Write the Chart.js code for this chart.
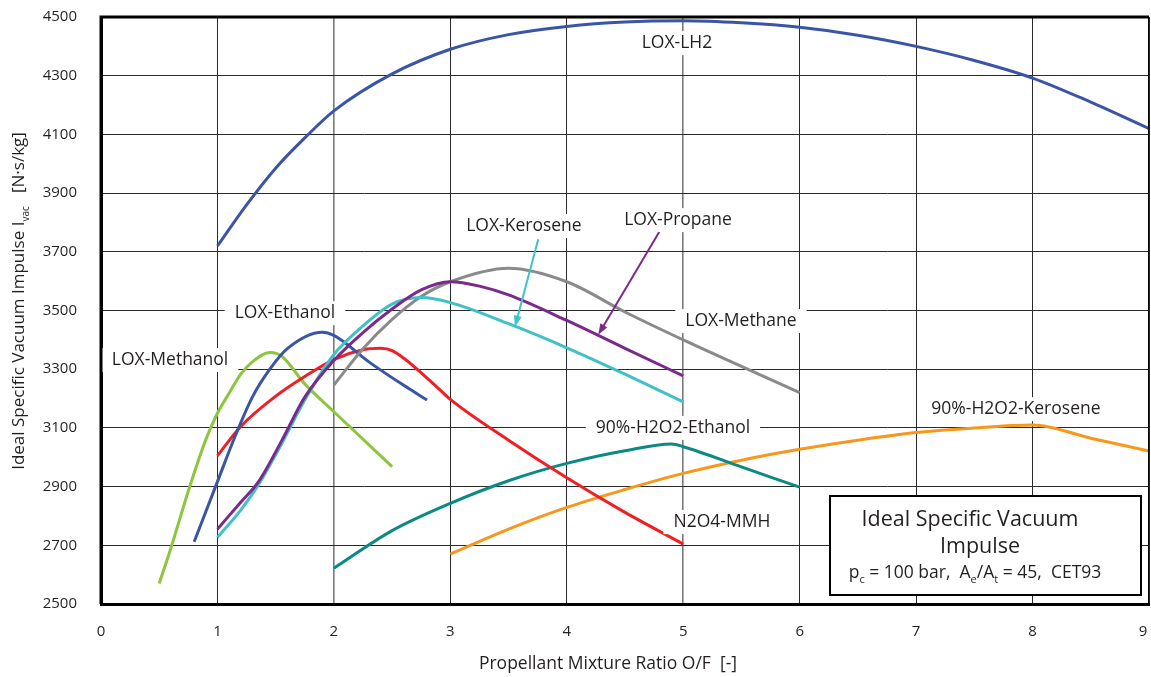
<!DOCTYPE html>
<html>
<head>
<meta charset="utf-8">
<script src="https://cdn.jsdelivr.net/npm/chart.js@4.4.0/dist/chart.umd.min.js"></script>
<style>
  html, body { margin: 0; padding: 0; background: #ffffff; }
  canvas { display: block; }
</style>
</head>
<body>
<canvas id="chart" width="1151" height="677"></canvas>
<script>
// Ideal specific vacuum impulse vs. mixture ratio (pc = 100 bar, Ae/At = 45, CET93)
const FONT = '"Open Sans", "Noto Sans", sans-serif';
const TEXT = '#231f20';

// Axis ticks
const xTicks = [0, 1, 2, 3, 4, 5, 6, 7, 8, 9];
const yTicks = [2500, 2700, 2900, 3100, 3300, 3500, 3700, 3900, 4100, 4300, 4500];

// Propellant combinations: O/F ratio and Ivac [N·s/kg]
const lh2OF  = [1, 1.25, 1.5, 1.75, 2, 2.5, 3, 3.5, 4, 4.5, 5, 5.5, 6, 6.5, 7, 7.5, 8, 8.5, 9];
const lh2Isp = [3720, 3860, 3985, 4088, 4180, 4306, 4390, 4440, 4468, 4483, 4487, 4480, 4465, 4438, 4400, 4352, 4292, 4210, 4120];

const methaneOF  = [2, 2.25, 2.5, 2.75, 3, 3.5, 4, 4.5, 5, 5.5, 6];
const methaneIsp = [3246, 3370, 3470, 3548, 3598, 3644, 3598, 3495, 3400, 3310, 3220];

const propaneOF  = [1, 1.2, 1.35, 1.55, 1.75, 2, 2.25, 2.5, 2.75, 3, 3.25, 3.5, 4, 4.5, 5];
const propaneIsp = [2755, 2847, 2915, 3055, 3205, 3330, 3425, 3505, 3570, 3598, 3583, 3553, 3466, 3371, 3277];

const keroseneOF  = [1, 1.2, 1.35, 1.55, 1.75, 2, 2.2, 2.5, 2.75, 3, 3.5, 4, 4.5, 5];
const keroseneIsp = [2727, 2820, 2905, 3045, 3195, 3350, 3430, 3522, 3544, 3527, 3455, 3373, 3283, 3189];

const ethanolOF  = [0.8, 1, 1.15, 1.3, 1.45, 1.6, 1.9, 2, 2.3, 2.6, 2.8];
const ethanolIsp = [2712, 2917, 3070, 3205, 3300, 3370, 3426, 3415, 3325, 3245, 3195];

const methanolOF  = [0.5, 0.6, 0.75, 0.9, 1, 1.1, 1.2, 1.3, 1.45, 1.55, 1.75, 2, 2.5];
const methanolIsp = [2570, 2690, 2885, 3060, 3150, 3218, 3283, 3325, 3357, 3345, 3250, 3155, 2968];

const mmhOF  = [1, 1.2, 1.5, 1.75, 2, 2.25, 2.4, 2.5, 2.85, 3, 3.5, 4, 4.5, 5];
const mmhIsp = [3005, 3105, 3208, 3275, 3333, 3366, 3371, 3363, 3252, 3197, 3058, 2930, 2812, 2704];

const h2o2EthanolOF  = [2, 2.5, 3, 3.5, 4, 4.5, 4.9, 5, 5.5, 6];
const h2o2EthanolIsp = [2622, 2750, 2843, 2920, 2979, 3022, 3045, 3036, 2967, 2898];

const h2o2KeroseneOF  = [3, 3.5, 4, 4.5, 5, 5.5, 6, 6.5, 7, 7.5, 8, 8.5, 9];
const h2o2KeroseneIsp = [2670, 2755, 2829, 2890, 2945, 2990, 3027, 3058, 3084, 3100, 3110, 3065, 3021];

// Curve labels, anchored in data coordinates (O/F, Ivac)
const labelTexts = ['LOX-LH2', 'LOX-Kerosene', 'LOX-Propane', 'LOX-Methane', 'LOX-Ethanol',
                    'LOX-Methanol', '90%-H2O2-Ethanol', '90%-H2O2-Kerosene', 'N2O4-MMH'];
const labelOF  = [4.946, 3.632, 4.955, 5.496, 1.58, 0.593, 4.912, 7.857, 5.332];
const labelIsp = [4411, 3788, 3808, 3464, 3491, 3331, 3100, 3164, 2779];

// Leader arrows: start (O/F, Ivac) -> tip on the curve
const arrowFromOF  = [3.755, 4.795];
const arrowFromIsp = [3743, 3768];
const arrowToOF    = [3.555, 4.27];
const arrowToIsp   = [3445, 3417];
const arrowColors  = ['#3fc1c6', '#7b2a8b'];

const series = [
  { name: 'LOX-LH2',            of: lh2OF,           isp: lh2Isp,           color: '#3a55a5' },
  { name: 'LOX-Propane',        of: propaneOF,       isp: propaneIsp,       color: '#7b2a8b' },
  { name: 'LOX-Kerosene',       of: keroseneOF,      isp: keroseneIsp,      color: '#3fc1c6' },
  { name: 'LOX-Methane',        of: methaneOF,       isp: methaneIsp,       color: '#8a8a8a' },
  { name: 'LOX-Ethanol',        of: ethanolOF,       isp: ethanolIsp,       color: '#3a55a5' },
  { name: 'N2O4-MMH',           of: mmhOF,           isp: mmhIsp,           color: '#ee1f25' },
  { name: 'LOX-Methanol',       of: methanolOF,      isp: methanolIsp,      color: '#8cc63f' },
  { name: '90%-H2O2-Ethanol',   of: h2o2EthanolOF,   isp: h2o2EthanolIsp,   color: '#0b8a83' },
  { name: '90%-H2O2-Kerosene',  of: h2o2KeroseneOF,  isp: h2o2KeroseneIsp,  color: '#f7981d' }
];

const datasets = series.map(s => ({
  label: s.name,
  data: s.of.map((v, i) => ({ x: v, y: s.isp[i] })),
  borderColor: s.color,
  borderWidth: 3,
  pointRadius: 0,
  fill: false,
  cubicInterpolationMode: 'monotone'
}));

// Curve labels on white patches, plus leader arrows
const curveLabels = {
  id: 'curveLabels',
  afterDatasetsDraw(chart) {
    const { ctx, scales: { x, y } } = chart;
    ctx.save();
    for (let i = 0; i < arrowFromOF.length; i++) {
      const x0 = x.getPixelForValue(arrowFromOF[i]), y0 = y.getPixelForValue(arrowFromIsp[i]);
      const x1 = x.getPixelForValue(arrowToOF[i]),   y1 = y.getPixelForValue(arrowToIsp[i]);
      const a = Math.atan2(y1 - y0, x1 - x0);
      const hl = 11, hw = 4;
      ctx.strokeStyle = arrowColors[i];
      ctx.fillStyle = arrowColors[i];
      ctx.lineWidth = 2;
      ctx.beginPath();
      ctx.moveTo(x0, y0);
      ctx.lineTo(x1 - Math.cos(a) * hl * 0.8, y1 - Math.sin(a) * hl * 0.8);
      ctx.stroke();
      ctx.beginPath();
      ctx.moveTo(x1, y1);
      ctx.lineTo(x1 - Math.cos(a) * hl - Math.sin(a) * hw, y1 - Math.sin(a) * hl + Math.cos(a) * hw);
      ctx.lineTo(x1 - Math.cos(a) * hl + Math.sin(a) * hw, y1 - Math.sin(a) * hl - Math.cos(a) * hw);
      ctx.closePath();
      ctx.fill();
    }
    ctx.font = '17.5px ' + FONT;
    ctx.textAlign = 'center';
    ctx.textBaseline = 'middle';
    labelTexts.forEach((t, i) => {
      const px = x.getPixelForValue(labelOF[i]);
      const py = y.getPixelForValue(labelIsp[i]);
      const w = ctx.measureText(t).width;
      ctx.fillStyle = '#ffffff';
      ctx.fillRect(px - w / 2 - 10, py - 12, w + 20, 24);
      ctx.fillStyle = TEXT;
      ctx.fillText(t, px, py);
    });
    ctx.restore();
  }
};

// Draws a run of text segments, with subscripts, centred on cx
function drawRuns(ctx, runs, cx, cy, size, subSize) {
  const fontFor = r => (r.sub ? subSize : size) + 'px ' + FONT;
  let total = 0;
  runs.forEach(r => { ctx.font = fontFor(r); total += ctx.measureText(r.t).width; });
  let px = cx - total / 2;
  ctx.textAlign = 'left';
  ctx.textBaseline = 'alphabetic';
  runs.forEach(r => {
    ctx.font = fontFor(r);
    ctx.fillText(r.t, px, cy + (r.sub ? size * 0.28 : 0));
    px += ctx.measureText(r.t).width;
  });
}

// Frame, x tick labels, axis titles and the condition box
const frame = {
  id: 'frame',
  afterDraw(chart) {
    const { ctx, chartArea: a, scales: { x } } = chart;
    ctx.save();
    ctx.strokeStyle = '#000000';
    ctx.lineWidth = 3;
    ctx.beginPath();
    ctx.moveTo(a.left, a.bottom);
    ctx.lineTo(a.left, a.top);
    ctx.lineTo(a.right, a.top);
    ctx.stroke();
    ctx.lineWidth = 1;
    ctx.beginPath();
    ctx.moveTo(a.right - 0.5, a.top);
    ctx.lineTo(a.right - 0.5, a.bottom);
    ctx.stroke();

    ctx.fillStyle = TEXT;
    ctx.font = '15px ' + FONT;
    ctx.textAlign = 'center';
    ctx.textBaseline = 'middle';
    xTicks.forEach(v => {
      const px = Math.min(x.getPixelForValue(v), a.right - 6);
      ctx.fillText(String(v), px, a.bottom + 28);
    });

    ctx.font = '17.5px ' + FONT;
    ctx.fillText('Propellant Mixture Ratio O/F  [-]', 608, 664);

    ctx.save();
    ctx.translate(24, 301);
    ctx.rotate(-Math.PI / 2);
    drawRuns(ctx, [
      { t: 'Ideal Specific Vacuum Impulse I' },
      { t: 'vac', sub: true },
      { t: '   [N·s/kg]' }
    ], 0, 0, 17, 10);
    ctx.restore();

    const bx = a.right - 319, by = a.bottom - 108, bw = 311, bh = 99;
    ctx.fillStyle = '#ffffff';
    ctx.fillRect(bx, by, bw, bh);
    ctx.strokeStyle = '#000000';
    ctx.lineWidth = 2;
    ctx.strokeRect(bx, by, bw, bh);
    ctx.fillStyle = TEXT;
    ctx.font = '21.5px ' + FONT;
    ctx.textAlign = 'center';
    ctx.textBaseline = 'middle';
    ctx.fillText('Ideal Specific Vacuum', bx + 140, by + 24);
    ctx.fillText('Impulse', bx + 150, by + 51);
    drawRuns(ctx, [
      { t: 'p' }, { t: 'c', sub: true }, { t: ' = 100 bar,  A' }, { t: 'e', sub: true },
      { t: '/A' }, { t: 't', sub: true }, { t: ' = 45,  CET93' }
    ], bx + 145, by + 82, 17.5, 11);
    ctx.restore();
  }
};

new Chart(document.getElementById('chart'), {
  type: 'line',
  data: { datasets },
  options: {
    responsive: false,
    devicePixelRatio: 1,
    animation: false,
    layout: { padding: { top: 17, right: 2, left: 0, bottom: 0 } },
    plugins: { legend: { display: false }, tooltip: { enabled: false } },
    scales: {
      x: {
        type: 'linear',
        min: 0, max: 9,
        afterBuildTicks: s => { s.ticks = xTicks.map(v => ({ value: v })); },
        afterFit: s => { s.height = 73; s.paddingLeft = 0; s.paddingRight = 0; s.paddingTop = 0; s.paddingBottom = 0; },
        ticks: { display: false },
        grid: {
          drawTicks: false,
          color: c => ([2, 5].includes(c.tick && c.tick.value) ? '#7a7a7a' : '#2a2a2a'),
          lineWidth: c => ([2, 5].includes(c.tick && c.tick.value) ? 1.6 : 1)
        },
        border: { display: true, color: '#000000', width: 3 }
      },
      y: {
        type: 'linear',
        min: 2500, max: 4500,
        afterBuildTicks: s => { s.ticks = yTicks.map(v => ({ value: v })); },
        afterFit: s => { s.width = 101; s.paddingLeft = 0; s.paddingRight = 0; s.paddingTop = 0; s.paddingBottom = 0; },
        ticks: { font: { family: FONT, size: 15 }, color: TEXT, padding: 24, callback: v => String(v) },
        grid: { drawTicks: false, color: '#2a2a2a', lineWidth: 1 },
        border: { display: true, color: '#000000', width: 3 }
      }
    }
  },
  plugins: [curveLabels, frame]
});
</script>
</body>
</html>
